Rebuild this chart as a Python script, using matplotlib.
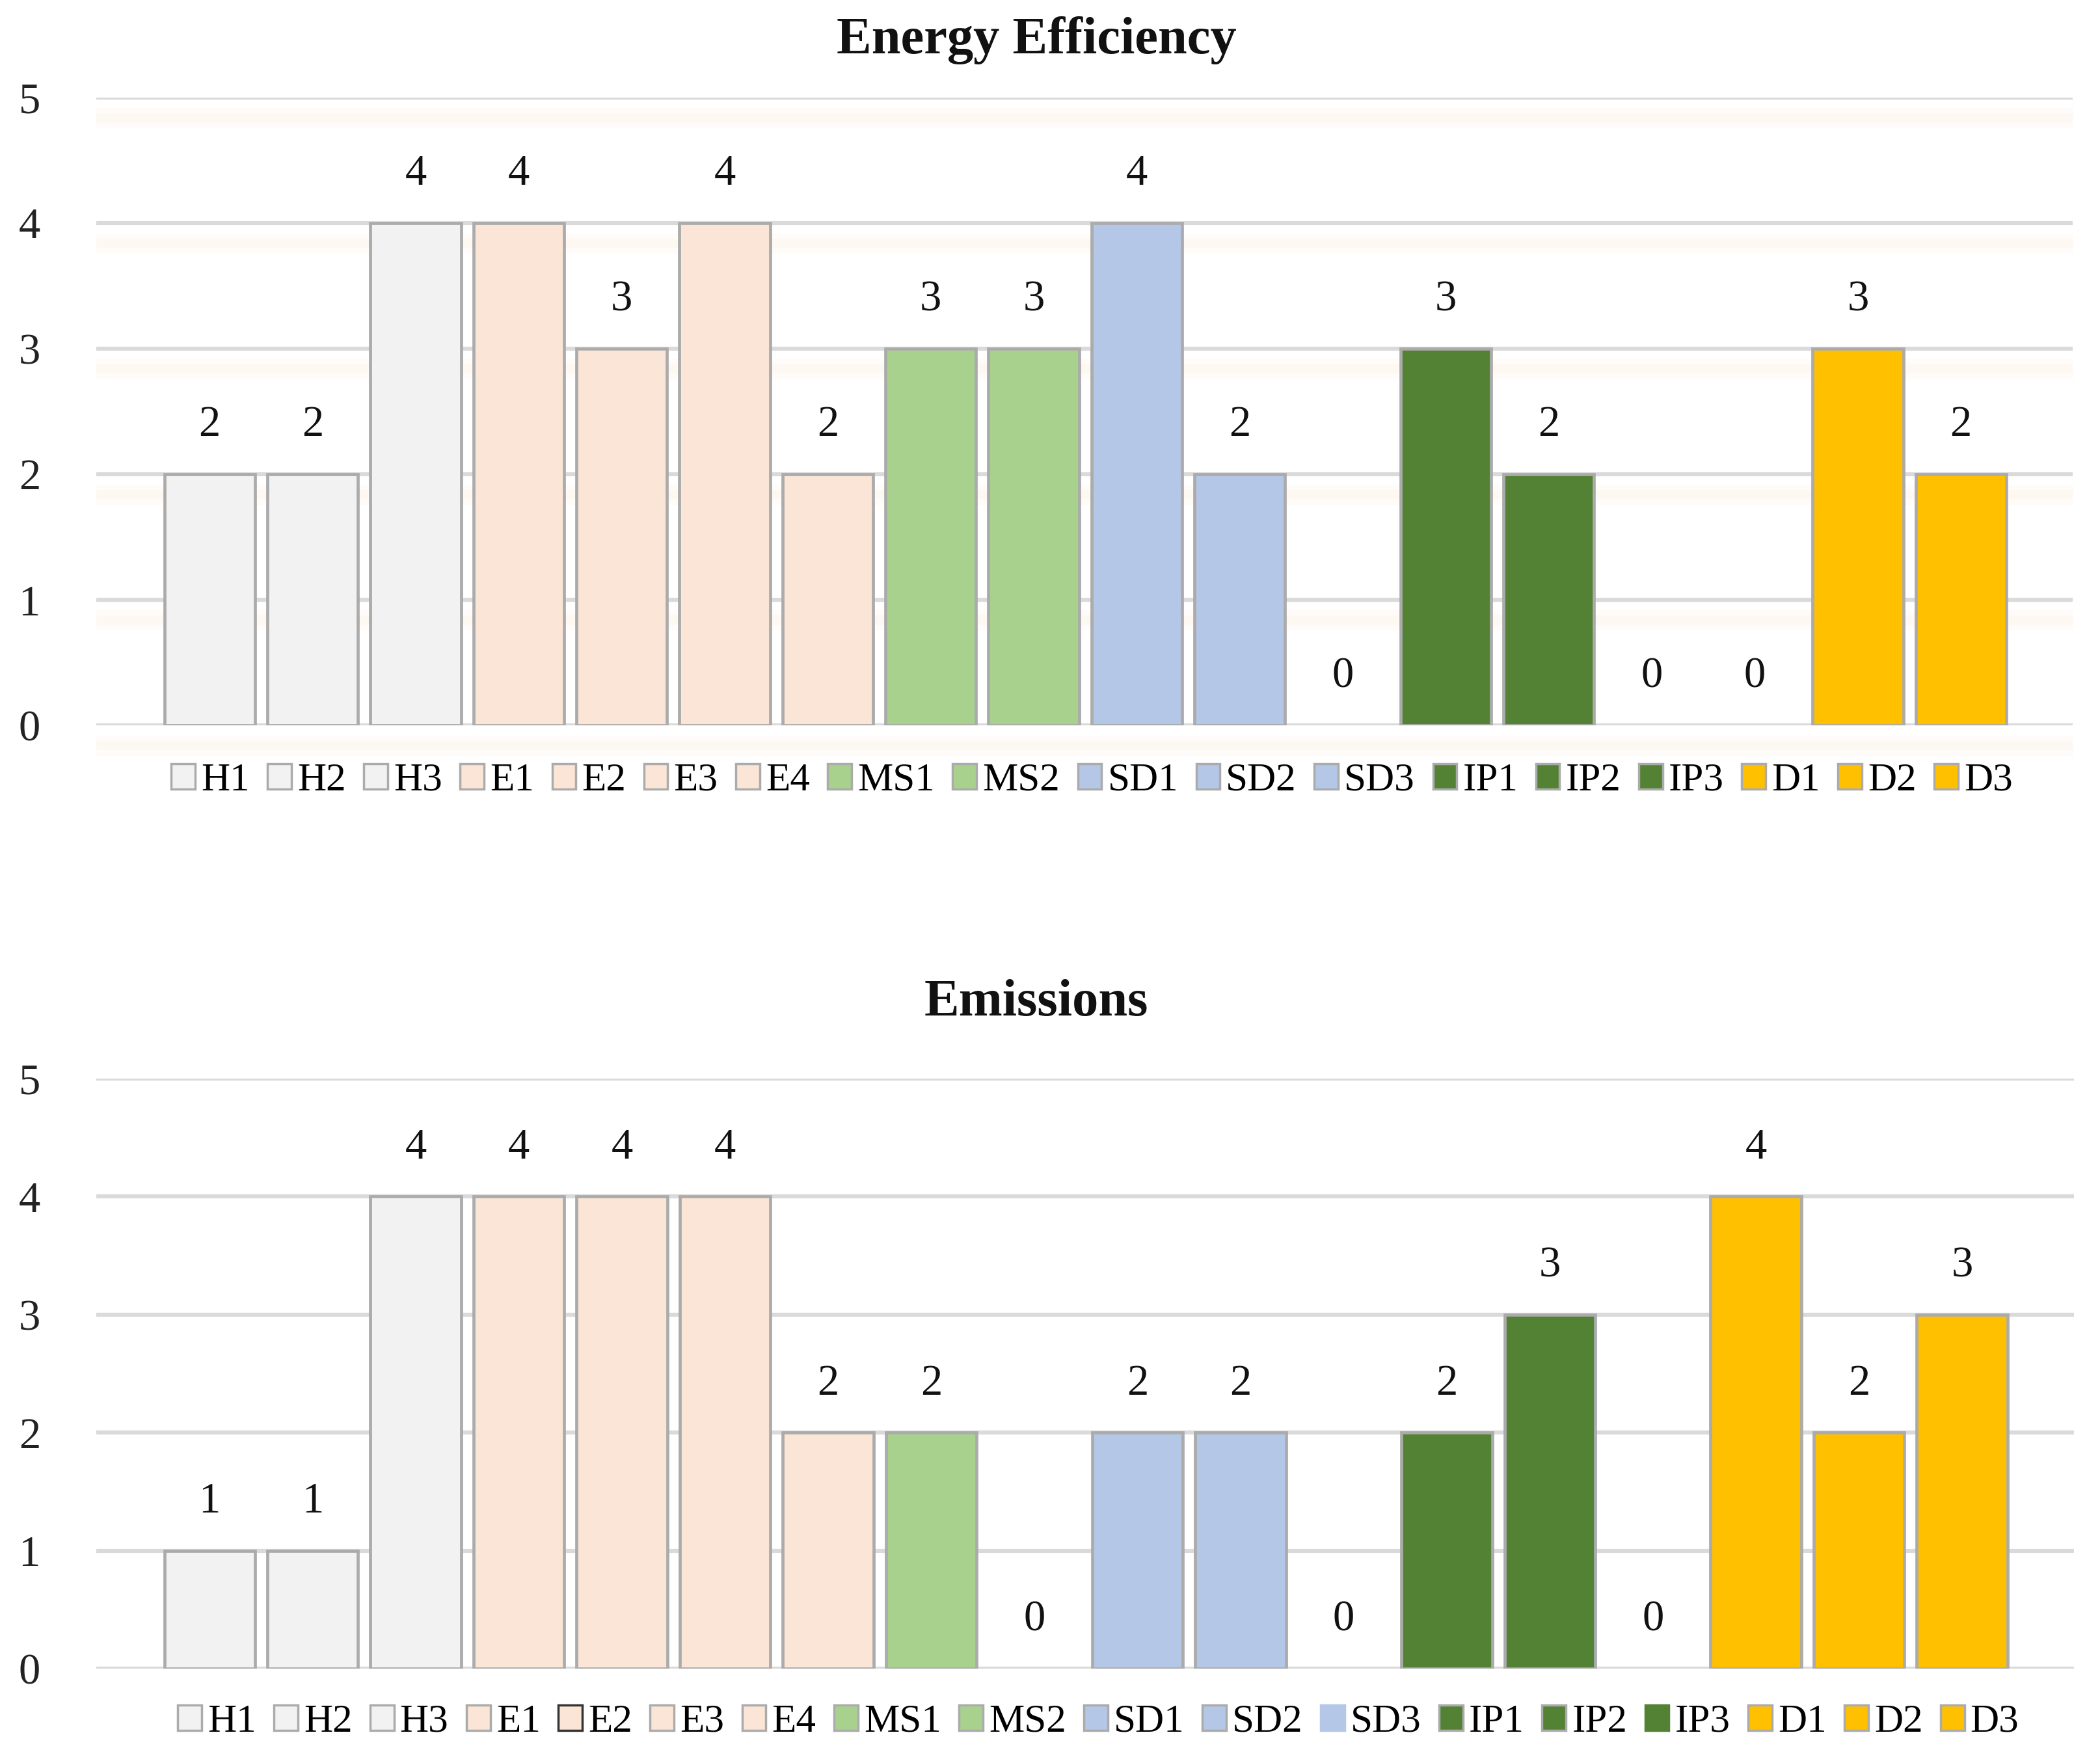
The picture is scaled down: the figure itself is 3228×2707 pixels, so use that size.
import matplotlib
matplotlib.use("Agg")
import matplotlib.pyplot as plt
from matplotlib.patches import Patch

categories = ["H1", "H2", "H3", "E1", "E2", "E3", "E4", "MS1", "MS2",
              "SD1", "SD2", "SD3", "IP1", "IP2", "IP3", "D1", "D2", "D3"]
energy_efficiency = [2, 2, 4, 4, 3, 4, 2, 3, 3, 4, 2, 0, 3, 2, 0, 0, 3, 2]
emissions = [1, 1, 4, 4, 4, 4, 2, 2, 0, 2, 2, 0, 2, 3, 0, 4, 2, 3]

group_colors = {"H": "#F2F2F2", "E": "#FBE5D6", "MS": "#A9D18E",
                "SD": "#B4C7E7", "IP": "#548235", "D": "#FFC000"}
titles = ["Energy Efficiency", "Emissions"]
yticks = [0, 1, 2, 3, 4, 5]


def color_of(cat):
    return group_colors[cat.rstrip("0123456789")]


colors = [color_of(c) for c in categories]
EDGE = "#ABABAB"

plt.rcParams['font.family'] = ['Liberation Serif', 'DejaVu Serif']

W, H = 3228, 2707
fig = plt.figure(figsize=(W / 100, H / 100), dpi=100)

axes_px = [(148, 3186, 150, 1115), (148, 3188, 1658, 2565)]
title_pos = [(0.4935, 0.977), (0.4935, 0.4307)]
legend_pos = [(0.520, 0.5567), (0.523, 0.0222)]
datasets = [energy_efficiency, emissions]

for k in range(2):
    l, r, t, b = axes_px[k]
    ax = fig.add_axes([l / W, 1 - b / H, (r - l) / W, (b - t) / H])
    vals = datasets[k]
    x = list(range(len(categories)))
    for yv in yticks:
        ax.axhline(yv, color="#DADADA", lw=4.5, zorder=0)
        if k == 0:
            ax.axhline(yv - 0.16, color="#FFFBF8", lw=22, zorder=0, clip_on=False,
                       solid_capstyle="butt")
            ax.axhline(yv - 0.16, color="#FEF8F3", lw=10, zorder=0, clip_on=False,
                       solid_capstyle="butt")
    lws = [3.4 if v > 0 else 0 for v in vals]
    ax.bar(x, vals, width=0.88, color=colors, edgecolor=EDGE,
           linewidth=lws, zorder=2)
    for xi, v in zip(x, vals):
        ax.annotate(str(v), (xi, v), xytext=(0, 54), textcoords="offset points",
                    ha="center", va="center", fontsize=48, color="#111111")
    ax.set_xlim(-1.10, len(categories) - 1 + 1.085)
    ax.set_ylim(0, 5)
    ax.set_yticks(yticks)
    ax.set_yticklabels([str(t) for t in yticks], fontsize=48, color="#222222")
    ax.tick_params(axis="y", length=0, pad=62)
    ax.set_xticks([])
    for s in ax.spines.values():
        s.set_visible(False)
    ax.patch.set_alpha(0)

    fig.text(title_pos[k][0], title_pos[k][1], titles[k], ha="center", va="center",
             fontsize=58, fontweight="bold", color="#111111")

    handles = []
    for i, c in enumerate(categories):
        ec = EDGE
        if k == 1 and c == "E2":
            ec = "#333333"
        if k == 1 and c in ("SD3", "IP3"):
            ec = colors[i]
        handles.append(Patch(facecolor=colors[i], edgecolor=ec, linewidth=2.5, label=c))
    fig.legend(handles=handles, loc="center", bbox_to_anchor=legend_pos[k],
               ncol=len(categories), frameon=False, fontsize=44,
               handlelength=0.6, handleheight=0.6, handletextpad=0.15,
               columnspacing=0.45, borderaxespad=0)

fig.savefig("out.png", dpi=100, facecolor="white")
